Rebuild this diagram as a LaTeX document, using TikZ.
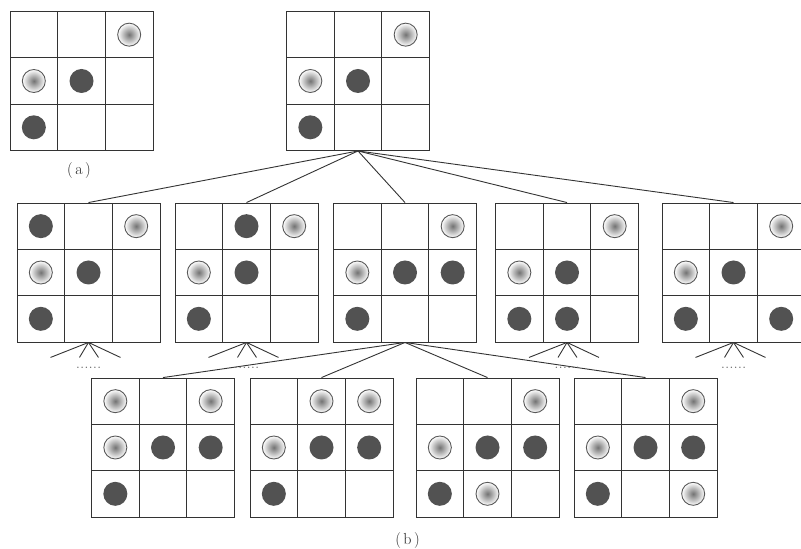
\documentclass[tikz,border=0pt]{standalone}
\newcommand{\unbrace}[1]{#1}
\begin{document}
\begin{tikzpicture}[
	x=1pt, y=-1pt,
	board/.style={ draw=black!80, line width=0.9pt, inner sep=0pt, minimum width=143pt, minimum height=139pt },
	grid/.style={ draw=black!80, line width=0.9pt },
	dark/.style={ circle, fill=black!68, inner sep=0pt, minimum size=24pt },
	ring/.style={ circle, draw=black!65, line width=0.9pt, inner color=black!55, outer color=white, inner sep=0pt, minimum size=23pt },
	link/.style={ draw=black!80, line width=0.9pt },
	dots/.style={ anchor=base, text=black!60, font=\fontsize{17}{17}\selectfont },
	caption/.style={ text=black!85, font=\fontsize{16}{18}\selectfont },
]
\useasboundingbox (0,0) rectangle (801,549);

\foreach \name/\x/\y/\pieces in {
	a/81.5/81/{ring/1/3,ring/2/1,dark/2/2,dark/3/1},
	top/358/81/{ring/1/3,ring/2/1,dark/2/2,dark/3/1},
	b1/88.5/272.5/{dark/1/1,ring/1/3,ring/2/1,dark/2/2,dark/3/1},
	b2/246.5/272.5/{dark/1/2,ring/1/3,ring/2/1,dark/2/2,dark/3/1},
	b3/405/272.5/{ring/1/3,ring/2/1,dark/2/2,dark/2/3,dark/3/1},
	b4/567/272.5/{ring/1/3,ring/2/1,dark/2/2,dark/3/1,dark/3/2},
	b5/733.5/272.5/{ring/1/3,ring/2/1,dark/2/2,dark/3/1,dark/3/3},
	c1/163/447.5/{ring/1/1,ring/1/3,ring/2/1,dark/2/2,dark/2/3,dark/3/1},
	c2/321.5/447.5/{ring/1/2,ring/1/3,ring/2/1,dark/2/2,dark/2/3,dark/3/1},
	c3/487.5/447.5/{ring/1/3,ring/2/1,dark/2/2,dark/2/3,dark/3/1,ring/3/2},
	c4/645.5/447.5/{ring/1/3,ring/2/1,dark/2/2,dark/2/3,dark/3/1,ring/3/3}
} {
	\node at (\x,\y) (\name) [board] {};
	\foreach \i in {-0.5,0.5} {
		\draw[grid] (\x+\i*47.67,\y-69.5) -- (\x+\i*47.67,\y+69.5);
		\draw[grid] (\x-71.5,\y+\i*46.33) -- (\x+71.5,\y+\i*46.33);
	}
	\edef\plist{\expandafter\unbrace\pieces}
	\foreach \k/\r/\c in \plist
		\node at (\x+\c*47.67-95.33,\y+\r*46.33-92.67) (\name-\r\c) [\k] {};
}

\foreach \p in {b1,b2,b3,b4,b5}
	\draw[link] (top.south) to (\p.north);
\foreach \p in {c1,c2,c3,c4}
	\draw[link] (b3.south) to (\p.north);

\foreach \p in {b1,b2,b4,b5} {
	\foreach \dx in {-38,-9,10,32}
		\draw[link] (\p.south) -- ++(\dx,15);
	\node at ([yshift=-26pt]\p.south) (\p-more) [dots] {......};
}

\node at (79,170.5) (cap-a) [caption] {(\kern2.5pt a\kern2.5pt)};
\node at (407.5,541) (cap-b) [caption] {(\kern2.5pt b\kern2.5pt)};

\end{tikzpicture}
\end{document}
